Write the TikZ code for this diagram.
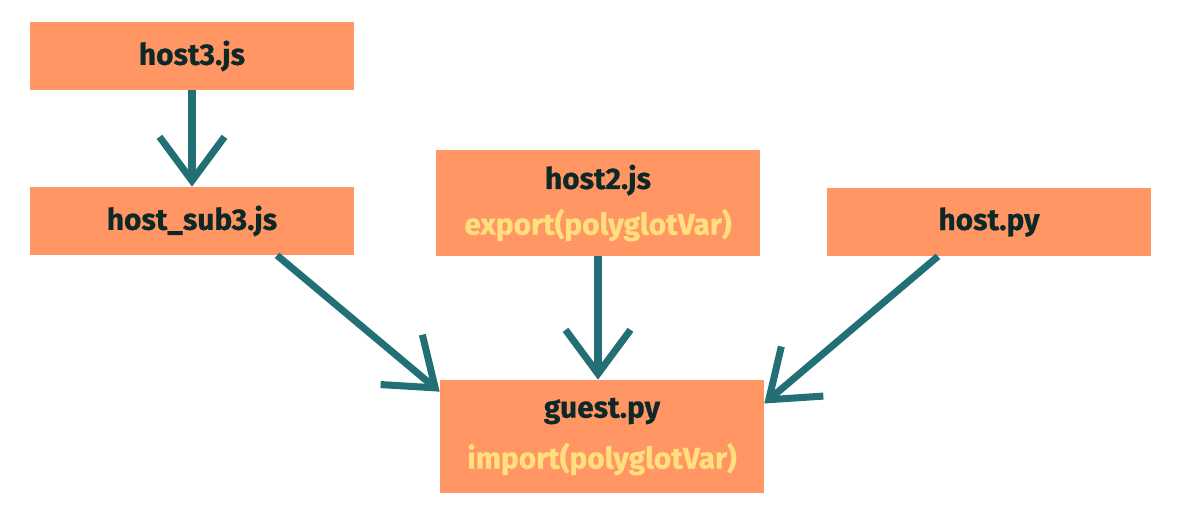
\documentclass[tikz,border=0pt]{standalone}
\usepackage{fontspec}
\setmainfont{Fira Sans}[BoldFeatures={FakeBold=0.6}]
\usetikzlibrary{arrows.meta}
\definecolor{boxfill}{RGB}{255,150,100}
\definecolor{txtdark}{RGB}{14,40,40}
\definecolor{txtyellow}{RGB}{255,224,125}
\definecolor{teal}{RGB}{34,112,118}
\tikzset{
  box/.style={fill=boxfill, draw=none, minimum width=6.48cm, minimum height=1.36cm,
    inner sep=0pt, align=center, text=txtdark, font=\fontsize{17}{25}\selectfont\bfseries},
  conn/.style={draw=teal, line width=4pt, line cap=butt,
    -{Straight Barb[length=25pt, width=37pt, line cap=butt, line join=miter]}}
}
\begin{document}
\begin{tikzpicture}[x=0.02cm, y=-0.02cm]
\useasboundingbox (0,0) rectangle (1186,527);
\node[box] (host3) at (192,56) {host3.js};
\node[box] (sub3) at (192,221) {host\_sub3.js};
\node[box, minimum height=2.12cm] (host2) at (598,203) {host2.js\\[1pt]\textcolor{txtyellow}{export(polyglotVar)}};
\node[box] (hostpy) at (989,222) {host.py};
\node[box, minimum height=2.26cm] (guest) at (602,436.5) {guest.py\\[4pt]\textcolor{txtyellow}{import(polyglotVar)}};
\draw[conn] (host3.south) -- (sub3.north);
\draw[conn] ([shift={(85,0)}]sub3.south) -- ([shift={(0,12)}]guest.north west);
\draw[conn] (host2.south) -- (host2.south |- guest.north);
\draw[conn] ([shift={(-51,0)}]hostpy.south) -- ([shift={(0,-33)}]guest.east);
\end{tikzpicture}
\end{document}
